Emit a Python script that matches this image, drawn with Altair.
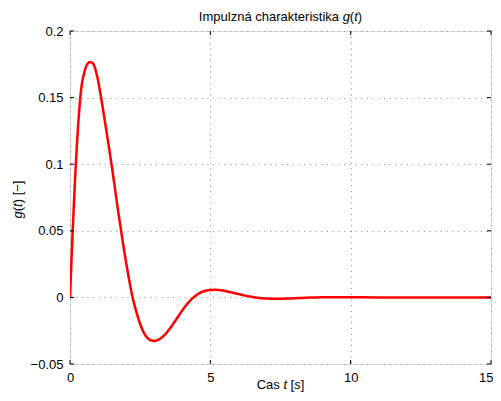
import altair as alt
import pandas as pd

# ---- data ----
t_vals = [0, 0.05, 0.1, 0.15, 0.2, 0.25, 0.3, 0.35, 0.4, 0.45, 0.5, 0.55, 0.6, 0.65, 0.7,
          0.75, 0.8, 0.85, 0.9, 0.95, 1.0, 1.05, 1.1, 1.2, 1.3, 1.4, 1.5, 1.6, 1.7, 1.8,
          1.9, 2.0, 2.1, 2.2, 2.3, 2.4, 2.5, 2.6, 2.7, 2.8, 2.9, 3.0, 3.2, 3.4, 3.6, 3.8,
          4.0, 4.2, 4.4, 4.6, 4.8, 5.0, 5.2, 5.4, 5.6, 5.8, 6.0, 6.2, 6.4, 6.6, 7.0, 7.4,
          7.8, 8.2, 8.6, 9.0, 9.5, 10.0, 11.0, 12.0, 13.0, 14.0, 15.0]
g_vals = [0, 0.0265, 0.052, 0.075, 0.097, 0.116, 0.1325, 0.146, 0.1565, 0.1635, 0.168,
          0.172, 0.1745, 0.176, 0.1765, 0.1765, 0.176, 0.1745, 0.1715, 0.1675, 0.163,
          0.157, 0.151, 0.138, 0.1245, 0.111, 0.097, 0.082, 0.067, 0.053, 0.039, 0.026,
          0.014, 0.003, -0.006, -0.0135, -0.020, -0.0252, -0.029, -0.0312, -0.0324, -0.0327,
          -0.0312, -0.0275, -0.0222, -0.0160, -0.0098, -0.0043, 0.0000, 0.0030, 0.0048,
          0.0056, 0.0057, 0.0053, 0.0045, 0.0035, 0.0025, 0.0015, 0.0007, 0.0000,
          -0.0008, -0.0010, -0.0008, -0.0005, -0.0001, 0.0001, 0.0002, 0.0001, 0.0,
          0.0, 0.0, 0.0, 0.0]
x_ticks = [0, 5, 10, 15]
y_ticks = [-0.05, 0, 0.05, 0.1, 0.15, 0.2]

W, H = 421, 333
FONT = "Liberation Sans"
FS = 13

df = pd.DataFrame({"t": t_vals, "g": g_vals})
xscale = alt.Scale(domain=[0, 15], nice=False, zero=False)
yscale = alt.Scale(domain=[-0.05, 0.2], nice=False, zero=False)

axis_common = dict(title=None, grid=True, ticks=False, domain=False, labelFont=FONT,
                   labelFontSize=FS, labelColor="black", labelPadding=7, format="~g",
                   gridColor="#8a8a8a", gridDash=[1, 4.7], gridWidth=1, labelFlush=False)
xaxis = alt.Axis(values=x_ticks,
                 labelAlign={"condition": {"test": "datum.value == 15", "value": "right"},
                             "value": "center"},
                 labelOffset={"condition": {"test": "datum.value == 15", "value": 2},
                              "value": 0},
                 **axis_common)
yaxis = alt.Axis(values=y_ticks, **axis_common)

line = alt.Chart(df).mark_line(color="#ff0000", strokeWidth=2.5,
                               interpolate="monotone", clip=True).encode(
    x=alt.X("t:Q", scale=xscale, axis=xaxis),
    y=alt.Y("g:Q", scale=yscale, axis=yaxis),
)

xt = pd.DataFrame({"xt": x_ticks})
yt = pd.DataFrame({"yt": y_ticks})
TL = 4
tick_b = alt.Chart(xt).mark_rule(color="black", strokeWidth=1).encode(
    x=alt.X("xt:Q", scale=xscale, axis=xaxis), y=alt.value(H), y2=alt.value(H - TL))
tick_t = alt.Chart(xt).mark_rule(color="black", strokeWidth=1).encode(
    x=alt.X("xt:Q", scale=xscale, axis=xaxis), y=alt.value(0), y2=alt.value(TL))
tick_l = alt.Chart(yt).mark_rule(color="black", strokeWidth=1).encode(
    y=alt.Y("yt:Q", scale=yscale, axis=yaxis), x=alt.value(0), x2=alt.value(TL))
tick_r = alt.Chart(yt).mark_rule(color="black", strokeWidth=1).encode(
    y=alt.Y("yt:Q", scale=yscale, axis=yaxis), x=alt.value(W), x2=alt.value(W - TL))


def piece(s, x, y, italic=False, angle=0):
    kw = dict(text=s, font=FONT, fontSize=FS, align="left", baseline="alphabetic",
              color="black", fontStyle="italic" if italic else "normal")
    if angle:
        kw["angle"] = angle
    return alt.Chart(pd.DataFrame({"a": [0]})).mark_text(**kw).encode(
        x=alt.value(x), y=alt.value(y))


# advance widths (Arial metrics), in px at FS
def w(s):
    m = {"I": 278, "m": 833, "p": 556, "u": 556, "l": 222, "z": 500, "n": 556, "á": 556,
         " ": 278, "c": 500, "h": 556, "a": 556, "r": 333, "k": 500, "t": 278, "e": 556,
         "i": 222, "s": 500, "g": 556, "(": 333, ")": 333, "[": 278, "]": 278, "−": 584,
         "C": 722}
    return sum(m[ch] for ch in s) * FS / 1000.0


def compose(parts, center, y):
    total = sum(w(s) for s, _ in parts)
    pos = center - total / 2
    layers = []
    for s, it in parts:
        lead = len(s) - len(s.lstrip(" "))
        layers.append(piece(s.strip(" "), pos + w(" ") * lead, y, it))
        pos += w(s)
    return layers


title_parts = [("Impulzná charakteristika ", False), ("g", True), ("(", False),
               ("t", True), (")", False)]
xlab_parts = [("Cas ", False), ("t", True), (" [", False), ("s", True), ("]", False)]
ylab_parts = [("g", True), ("(", False), ("t", True), (") [−]", False)]

texts = []
texts += compose(title_parts, W / 2, -10.5)
texts += compose(xlab_parts, W / 2, 357.5)

# y label, rotated (reads bottom to top)
ycenter = H / 2 + 2
total = sum(w(s) for s, _ in ylab_parts)
pos = ycenter + total / 2
for s, it in ylab_parts:
    texts.append(piece(s, -48, pos, it, 270))
    pos -= w(s)

chart = alt.layer(line, tick_b, tick_t, tick_l, tick_r, *texts).properties(
    width=W, height=H,
    padding={"left": 62, "top": 23, "right": 2, "bottom": 28},
    autosize=alt.AutoSizeParams(type="none"),
).configure_view(stroke="black", strokeWidth=1).configure(background="white")

chart.save("out.html", embed_options={"renderer": "svg", "actions": False})
